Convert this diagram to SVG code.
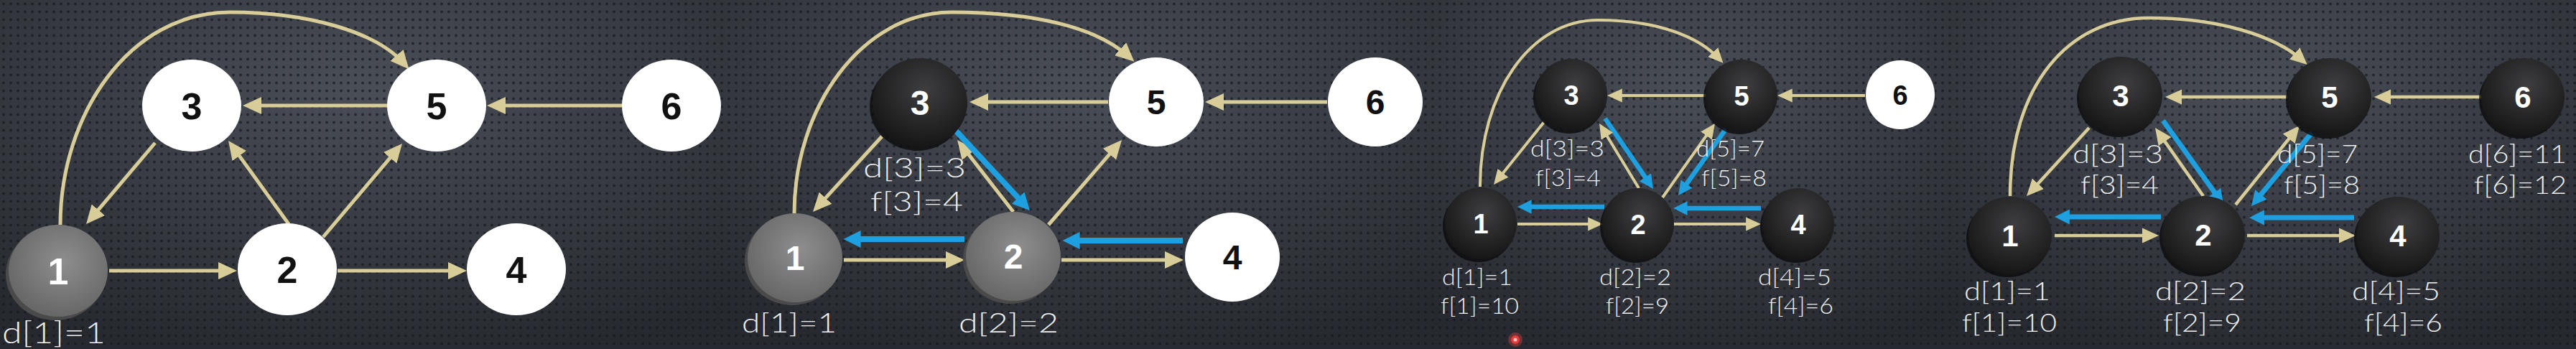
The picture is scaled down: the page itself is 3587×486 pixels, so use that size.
<svg xmlns="http://www.w3.org/2000/svg" width="3587" height="486" viewBox="0 0 3587 486">
<defs>
<pattern id="dots" width="10" height="11" patternUnits="userSpaceOnUse">
<circle cx="5" cy="5.5" r="2" fill="#16191d" fill-opacity="0.7"/>
</pattern>
<radialGradient id="bg" cx="50%" cy="25%" r="80%">
<stop offset="0" stop-color="#4a4e57"/>
<stop offset="1" stop-color="#26292f"/>
</radialGradient>
<radialGradient id="gGray" cx="55%" cy="40%" r="60%">
<stop offset="0" stop-color="#8e8e8e"/>
<stop offset="1" stop-color="#676767"/>
</radialGradient>
<radialGradient id="gBlack" cx="55%" cy="35%" r="65%">
<stop offset="0" stop-color="#3e3e40"/>
<stop offset="1" stop-color="#161617"/>
</radialGradient>
<marker id="ay" markerUnits="strokeWidth" markerWidth="5.2" markerHeight="4.8" refX="3.2" refY="2.4" orient="auto">
<path d="M0,0 L5.2,2.4 L0,4.8 z" fill="#d8cd98"/>
</marker>
<marker id="ab" markerUnits="strokeWidth" markerWidth="3" markerHeight="3" refX="1.7" refY="1.5" orient="auto">
<path d="M0,0 L3,1.5 L0,3 z" fill="#1e9fe0"/>
</marker>
</defs>
<style>
.y{fill:none;stroke:#d8cd98;stroke-width:5;marker-end:url(#ay)}
.b{fill:none;stroke:#1e9fe0;stroke-width:8;marker-end:url(#ab)}
#p3 .y{stroke-width:4}
#p3 .b{stroke-width:6.5}
#p4 .y{stroke-width:4.5}
#p4 .b{stroke-width:7}
.nw{fill:#ffffff}
.ng{fill:url(#gGray)}
.nk{fill:url(#gBlack)}
.shg{fill:#4a4a4a}
.shk{fill:#0b0b0c;fill-opacity:0.8}
.num{font-family:'Liberation Sans',Arial,sans-serif;font-weight:700;text-anchor:middle}
.dk{fill:#111111}
.lt{fill:#ffffff}
.lbl{font-family:Lato,'Open Sans','Liberation Sans',sans-serif;font-weight:300;fill:#eeeeee}
</style>

<g id="background">
<rect x="0" y="0" width="1006" height="486" fill="url(#bg)"/>
<rect x="1006" y="0" width="987" height="486" fill="url(#bg)"/>
<rect x="1993" y="0" width="724" height="486" fill="url(#bg)"/>
<rect x="2717" y="0" width="870" height="486" fill="url(#bg)"/>
<rect x="0" y="0" width="3587" height="486" fill="url(#dots)"/>
</g>

<g id="p1">
<g id="p1-connectors">
<path class="y" d="M152,377 L320,377"/>
<path class="y" d="M470,377 L640,377"/>
<path class="y" d="M540,147 L348,147"/>
<path class="y" d="M866,147 L688,147"/>
<path class="y" d="M216,199 L126.5,304.4"/>
<path class="y" d="M402,312 L323.9,204.1"/>
<path class="y" d="M450,330 L553.5,207.6"/>
<path class="y" d="M84,313 C84,160 180,17 320,17 C430,17 525,45 563,89"/>
</g>
<g id="p1-n1"><ellipse cx="77" cy="382" rx="69" ry="64" class="shg"/><ellipse cx="81" cy="377" rx="69" ry="64" class="ng"/><text x="81" y="396" font-size="52" class="num lt">1</text></g>
<g id="p1-n2"><ellipse cx="400" cy="375" rx="69" ry="64" class="nw"/><text x="400" y="394" font-size="52" class="num dk">2</text></g>
<g id="p1-n4"><ellipse cx="719" cy="375" rx="69" ry="64" class="nw"/><text x="719" y="394" font-size="52" class="num dk">4</text></g>
<g id="p1-n3"><ellipse cx="267" cy="147" rx="69" ry="64" class="nw"/><text x="267" y="166" font-size="52" class="num dk">3</text></g>
<g id="p1-n5"><ellipse cx="608" cy="147" rx="69" ry="64" class="nw"/><text x="608" y="166" font-size="52" class="num dk">5</text></g>
<g id="p1-n6"><ellipse cx="935" cy="147" rx="69" ry="64" class="nw"/><text x="935" y="166" font-size="52" class="num dk">6</text></g>
<g id="p1-labels">
<text x="3" y="478" font-size="42" class="lbl" textLength="144" lengthAdjust="spacingAndGlyphs">d[1]=1</text>
</g>
</g>

<g id="p2">
<g id="p2-connectors">
<path class="y" d="M1175,362 L1333,362"/>
<path class="y" d="M1478,362 L1638,362"/>
<path class="b" d="M1343,333 L1185,333"/>
<path class="b" d="M1647,335 L1490,335"/>
<path class="y" d="M1543,142 L1360,142"/>
<path class="y" d="M1848,142 L1688,142"/>
<path class="y" d="M1228,190 L1138.7,287.6"/>
<path class="y" d="M1411,295 L1339.2,202.9"/>
<path class="b" d="M1331,182 L1426.9,285.4"/>
<path class="y" d="M1460,313 L1555.5,202.6"/>
<path class="y" d="M1106,297 C1106,150 1200,17 1325,17 C1440,17 1527,38 1572,79"/>
</g>
<g id="p2-n1"><ellipse cx="1103" cy="363" rx="66" ry="62" class="shg"/><ellipse cx="1107" cy="359" rx="66" ry="62" class="ng"/><text x="1107" y="376" font-size="48" class="num lt">1</text></g>
<g id="p2-n2"><ellipse cx="1407" cy="361" rx="66" ry="62" class="shg"/><ellipse cx="1411" cy="357" rx="66" ry="62" class="ng"/><text x="1411" y="374" font-size="48" class="num lt">2</text></g>
<g id="p2-n4"><ellipse cx="1716" cy="358" rx="66" ry="62" class="nw"/><text x="1716" y="375" font-size="48" class="num dk">4</text></g>
<g id="p2-n3"><ellipse cx="1277" cy="148" rx="66" ry="62" class="shk"/><ellipse cx="1281" cy="143" rx="66" ry="62" class="nk"/><text x="1281" y="160" font-size="48" class="num lt">3</text></g>
<g id="p2-n5"><ellipse cx="1610" cy="142" rx="66" ry="62" class="nw"/><text x="1610" y="159" font-size="48" class="num dk">5</text></g>
<g id="p2-n6"><ellipse cx="1915" cy="142" rx="66" ry="62" class="nw"/><text x="1915" y="159" font-size="48" class="num dk">6</text></g>
<g id="p2-labels">
<text x="1202" y="247" font-size="38" class="lbl" textLength="143" lengthAdjust="spacingAndGlyphs">d[3]=3</text>
<text x="1212" y="294" font-size="38" class="lbl" textLength="129" lengthAdjust="spacingAndGlyphs">f[3]=4</text>
<text x="1033" y="463" font-size="38" class="lbl" textLength="132" lengthAdjust="spacingAndGlyphs">d[1]=1</text>
<text x="1335" y="463" font-size="38" class="lbl" textLength="139" lengthAdjust="spacingAndGlyphs">d[2]=2</text>
</g>
</g>

<g id="p3">
<g id="p3-connectors">
<path class="y" d="M2113,312 L2224,312"/>
<path class="y" d="M2330,312 L2444,312"/>
<path class="b" d="M2234,288 L2121.5,288"/>
<path class="b" d="M2452,290 L2338.5,290"/>
<path class="y" d="M2377,133 L2246,133"/>
<path class="y" d="M2597,133 L2483,133"/>
<path class="b" d="M2235,165 L2297.2,256"/>
<path class="y" d="M2282,262 L2231.2,178.8"/>
<path class="y" d="M2315,275 L2383.4,178.5"/>
<path class="b" d="M2403,180 L2342,265.1"/>
<path class="y" d="M2150,170 L2085,250.8"/>
<path class="y" d="M2061,260 C2061,130 2130,28 2225,28 C2310,28 2366,52 2394,82"/>
</g>
<g id="p3-n1"><circle cx="2059" cy="315" r="50" class="shk"/><circle cx="2062" cy="311" r="50" class="nk"/><text x="2062" y="325" font-size="38" class="num lt">1</text></g>
<g id="p3-n2"><circle cx="2278" cy="316" r="50" class="shk"/><circle cx="2281" cy="312" r="50" class="nk"/><text x="2281" y="326" font-size="38" class="num lt">2</text></g>
<g id="p3-n4"><circle cx="2501" cy="316" r="50" class="shk"/><circle cx="2504" cy="312" r="50" class="nk"/><text x="2504" y="326" font-size="38" class="num lt">4</text></g>
<g id="p3-n3"><circle cx="2185" cy="136" r="50" class="shk"/><circle cx="2188" cy="132" r="50" class="nk"/><text x="2188" y="146" font-size="38" class="num lt">3</text></g>
<g id="p3-n5"><circle cx="2422" cy="137" r="50" class="shk"/><circle cx="2425" cy="133" r="50" class="nk"/><text x="2425" y="147" font-size="38" class="num lt">5</text></g>
<g id="p3-n6"><circle cx="2646" cy="132" r="48" class="nw"/><text x="2646" y="146" font-size="38" class="num dk">6</text></g>
<g id="p3-labels">
<text x="2131" y="218" font-size="31" class="lbl" textLength="103" lengthAdjust="spacingAndGlyphs">d[3]=3</text>
<text x="2138" y="259" font-size="31" class="lbl" textLength="91" lengthAdjust="spacingAndGlyphs">f[3]=4</text>
<text x="2362" y="218" font-size="31" class="lbl" textLength="95" lengthAdjust="spacingAndGlyphs">d[5]=7</text>
<text x="2369" y="259" font-size="31" class="lbl" textLength="91" lengthAdjust="spacingAndGlyphs">f[5]=8</text>
<text x="2008" y="397" font-size="31" class="lbl" textLength="98" lengthAdjust="spacingAndGlyphs">d[1]=1</text>
<text x="2006" y="437" font-size="31" class="lbl" textLength="109" lengthAdjust="spacingAndGlyphs">f[1]=10</text>
<text x="2227" y="397" font-size="31" class="lbl" textLength="100" lengthAdjust="spacingAndGlyphs">d[2]=2</text>
<text x="2236" y="437" font-size="31" class="lbl" textLength="88" lengthAdjust="spacingAndGlyphs">f[2]=9</text>
<text x="2448" y="397" font-size="31" class="lbl" textLength="102" lengthAdjust="spacingAndGlyphs">d[4]=5</text>
<text x="2462" y="437" font-size="31" class="lbl" textLength="91" lengthAdjust="spacingAndGlyphs">f[4]=6</text>
</g>
<g id="p3-cursor">
<circle cx="2110" cy="473" r="10" fill="#ff4a4a" fill-opacity="0.35"/>
<circle cx="2110" cy="473" r="6" fill="#e63c3c"/>
<circle cx="2110" cy="473" r="2.5" fill="#ffc0c0"/>
</g>
</g>

<g id="p4">
<g id="p4-connectors">
<path class="y" d="M2861,328 L2997,328"/>
<path class="y" d="M3129,328 L3271,328"/>
<path class="b" d="M3009,302 L2870,302"/>
<path class="b" d="M3278,303 L3141,303"/>
<path class="y" d="M3185,135 L3024,135"/>
<path class="y" d="M3457,135 L3315,135"/>
<path class="b" d="M3012,168 L3090.7,277.6"/>
<path class="y" d="M3068,273 L3006.2,185.4"/>
<path class="y" d="M3113,285 L3196.3,182"/>
<path class="b" d="M3219,185 L3140.8,280"/>
<path class="y" d="M2909,178 L2828.1,266.4"/>
<path class="y" d="M2799,273 C2799,120 2880,25 2992,25 C3090,25 3168,50 3206,84"/>
</g>
<g id="p4-n1"><ellipse cx="2796" cy="332" rx="58" ry="54" class="shk"/><ellipse cx="2799" cy="328" rx="58" ry="54" class="nk"/><text x="2799" y="343" font-size="42" class="num lt">1</text></g>
<g id="p4-n2"><ellipse cx="3065" cy="331" rx="58" ry="54" class="shk"/><ellipse cx="3068" cy="327" rx="58" ry="54" class="nk"/><text x="3068" y="342" font-size="42" class="num lt">2</text></g>
<g id="p4-n4"><ellipse cx="3336" cy="332" rx="58" ry="54" class="shk"/><ellipse cx="3339" cy="328" rx="58" ry="54" class="nk"/><text x="3339" y="343" font-size="42" class="num lt">4</text></g>
<g id="p4-n3"><ellipse cx="2950" cy="137" rx="58" ry="54" class="shk"/><ellipse cx="2953" cy="133" rx="58" ry="54" class="nk"/><text x="2953" y="148" font-size="42" class="num lt">3</text></g>
<g id="p4-n5"><ellipse cx="3241" cy="139" rx="58" ry="54" class="shk"/><ellipse cx="3244" cy="135" rx="58" ry="54" class="nk"/><text x="3244" y="150" font-size="42" class="num lt">5</text></g>
<g id="p4-n6"><ellipse cx="3510" cy="139" rx="58" ry="54" class="shk"/><ellipse cx="3513" cy="135" rx="58" ry="54" class="nk"/><text x="3513" y="150" font-size="42" class="num lt">6</text></g>
<g id="p4-labels">
<text x="2886" y="227" font-size="35" class="lbl" textLength="126" lengthAdjust="spacingAndGlyphs">d[3]=3</text>
<text x="2897" y="270" font-size="35" class="lbl" textLength="109" lengthAdjust="spacingAndGlyphs">f[3]=4</text>
<text x="3171" y="227" font-size="35" class="lbl" textLength="112" lengthAdjust="spacingAndGlyphs">d[5]=7</text>
<text x="3180" y="270" font-size="35" class="lbl" textLength="106" lengthAdjust="spacingAndGlyphs">f[5]=8</text>
<text x="3437" y="227" font-size="35" class="lbl" textLength="137" lengthAdjust="spacingAndGlyphs">d[6]=11</text>
<text x="3445" y="270" font-size="35" class="lbl" textLength="129" lengthAdjust="spacingAndGlyphs">f[6]=12</text>
<text x="2735" y="418" font-size="35" class="lbl" textLength="120" lengthAdjust="spacingAndGlyphs">d[1]=1</text>
<text x="2732" y="462" font-size="35" class="lbl" textLength="132" lengthAdjust="spacingAndGlyphs">f[1]=10</text>
<text x="3001" y="418" font-size="35" class="lbl" textLength="126" lengthAdjust="spacingAndGlyphs">d[2]=2</text>
<text x="3012" y="462" font-size="35" class="lbl" textLength="109" lengthAdjust="spacingAndGlyphs">f[2]=9</text>
<text x="3275" y="418" font-size="35" class="lbl" textLength="123" lengthAdjust="spacingAndGlyphs">d[4]=5</text>
<text x="3292" y="462" font-size="35" class="lbl" textLength="109" lengthAdjust="spacingAndGlyphs">f[4]=6</text>
</g>
</g>
</svg>
